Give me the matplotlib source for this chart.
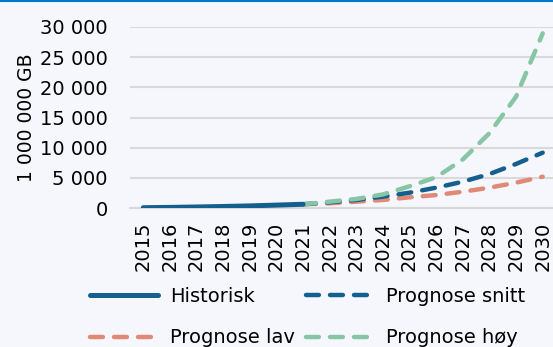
import matplotlib
matplotlib.use("Agg")
import matplotlib.pyplot as plt
from matplotlib.ticker import FuncFormatter

# Data volume, million GB per year
years = [str(y) for y in range(2015, 2031)]
historisk = [50, 100, 170, 250, 350, 480, 620]
snitt = [620, 940, 1330, 1880, 2540, 3370, 4360, 5630, 7300, 9170]
lav = [620, 780, 1050, 1330, 1770, 2150, 2700, 3370, 4200, 5190]
hoy = [620, 1050, 1500, 2250, 3600, 5100, 8050, 12400, 18450, 28950]

c_blue = "#155f8f"
c_red = "#e08a76"
c_green = "#87c6a5"
bg = "#f5f7fc"

plt.rcParams["font.family"] = ["DejaVu Sans"]

fig = plt.figure(figsize=(5.53, 3.47), dpi=100, facecolor=bg)
ax = fig.add_axes([130 / 553, 1 - 208 / 347, 426 / 553, 181 / 347])
ax.set_facecolor(bg)

x_hist = list(range(len(historisk)))
x_prog = list(range(len(historisk) - 1, len(years)))
dash = (0, (2.9, 2.5))

ax.plot(x_prog, lav, color=c_red, lw=3.2, ls=dash, dash_capstyle="round", label="Prognose lav", zorder=3)
ax.plot(x_prog, snitt, color=c_blue, lw=3.2, ls=dash, dash_capstyle="round", label="Prognose snitt", zorder=4)
ax.plot(x_prog, hoy, color=c_green, lw=3.2, ls=dash, dash_capstyle="round", label="Prognose høy", zorder=5)
ax.plot(x_hist, historisk, color=c_blue, lw=3.6, solid_capstyle="round", label="Historisk", zorder=6)

ax.set_xlim(-0.5, len(years) - 0.5)
ax.set_ylim(0, 30000)
ax.set_yticks(range(0, 30001, 5000))
ax.yaxis.set_major_formatter(FuncFormatter(lambda v, p: f"{int(v):,}".replace(",", " ")))
ax.set_xticks(range(len(years)))
ax.set_xticklabels(years, rotation=90)
ax.tick_params(axis="both", length=0, labelsize=14, colors="black")
ax.tick_params(axis="x", pad=10)
ax.tick_params(axis="y", pad=16)
ax.grid(axis="y", color="#d9d9d9", lw=1.5)
ax.set_axisbelow(True)
for s in ["top", "right", "left"]:
    ax.spines[s].set_visible(False)
ax.spines["bottom"].set_color("#d9d9d9")
ax.spines["bottom"].set_linewidth(1.5)
ax.set_ylabel("1 000 000 GB", fontsize=13.5, labelpad=3)

# legend fills column-wise: Historisk / Prognose snitt on the first row
handles, labels = ax.get_legend_handles_labels()
order = ["Historisk", "Prognose lav", "Prognose snitt", "Prognose høy"]
hl = dict(zip(labels, handles))
fig.legend([hl[k] for k in order], order, loc="upper left", bbox_to_anchor=(90 / 553, 1 - 287 / 347),
           ncol=2, frameon=False, fontsize=14, handlelength=3.5, handletextpad=0.6,
           columnspacing=0.6, labelspacing=1.15, borderpad=0, borderaxespad=0)

# thin accent line along the top edge
fig.add_artist(plt.Line2D([0, 1], [0.997, 0.997], color="#0077c8", lw=1.5, transform=fig.transFigure))

fig.savefig("out.png", dpi=100, facecolor=bg)
